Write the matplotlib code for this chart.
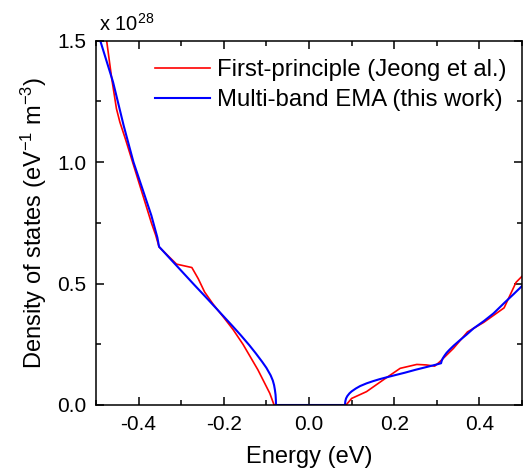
import matplotlib
matplotlib.use("Agg")
import matplotlib.pyplot as plt
from matplotlib.ticker import MultipleLocator, FormatStrFormatter

plt.rcParams['font.family'] = ['Liberation Sans', 'DejaVu Sans']
plt.rcParams['mathtext.fontset'] = 'custom'
plt.rcParams['mathtext.rm'] = 'Liberation Sans'
plt.rcParams['mathtext.it'] = 'Liberation Sans:italic'
plt.rcParams['mathtext.bf'] = 'Liberation Sans:bold'

# First-principle DOS (Jeong et al.), units of 1e28 eV^-1 m^-3
fp_energy = [-0.482, -0.475, -0.463, -0.452, -0.444, -0.430, -0.415, -0.400, -0.385,
             -0.370, -0.360, -0.352, -0.311, -0.275, -0.260, -0.245, -0.225, -0.200,
             -0.178, -0.155, -0.135, -0.120, -0.107, -0.092, -0.082,
             0.087, 0.100, 0.135, 0.174, 0.214, 0.253, 0.275, 0.295, 0.307,
             0.339, 0.372, 0.410, 0.450, 0.458, 0.486, 0.500, 0.505]
fp_dos = [1.60, 1.50, 1.343, 1.22, 1.165, 1.09, 1.005, 0.92, 0.835,
          0.750, 0.700, 0.651, 0.580, 0.566, 0.520, 0.465, 0.415, 0.360,
          0.310, 0.250, 0.190, 0.145, 0.100, 0.048, 0.0,
          0.0, 0.027, 0.055, 0.103, 0.151, 0.167, 0.165, 0.160, 0.178,
          0.233, 0.301, 0.340, 0.390, 0.400, 0.505, 0.530, 0.535]

# Multi-band EMA (this work)
ema_energy = [-0.497, -0.490, -0.460, -0.435, -0.412, -0.390, -0.370, -0.356, -0.352,
              -0.330, -0.300, -0.270, -0.240, -0.210, -0.180, -0.160, -0.140, -0.125,
              -0.110, -0.100, -0.090, -0.085, -0.082, -0.080, -0.0785, -0.0778, -0.0775,
              0.0845, 0.0852, 0.087, 0.090, 0.095, 0.100, 0.110, 0.120, 0.135, 0.150,
              0.165, 0.180, 0.200, 0.225, 0.250, 0.275, 0.300, 0.310, 0.3115, 0.314,
              0.318, 0.323, 0.330, 0.340, 0.355, 0.370, 0.386, 0.410, 0.433, 0.460,
              0.480, 0.500]
ema_dos = [1.54, 1.50, 1.33, 1.15, 1.00, 0.885, 0.78, 0.69, 0.652,
           0.610, 0.553, 0.496, 0.440, 0.383, 0.326, 0.287, 0.246, 0.213,
           0.178, 0.153, 0.122, 0.101, 0.082, 0.062, 0.042, 0.022, 0.0,
           0.0, 0.015, 0.027, 0.037, 0.048, 0.056, 0.068, 0.078, 0.089, 0.098,
           0.106, 0.113, 0.122, 0.133, 0.145, 0.156, 0.167, 0.172, 0.182, 0.192,
           0.203, 0.215, 0.228, 0.245, 0.268, 0.290, 0.315, 0.345, 0.377, 0.423,
           0.456, 0.490]

fig = plt.figure(figsize=(5.27, 4.72), dpi=100)
ax = fig.add_axes([96/527, 1-405/472, 426/527, (405-40.7)/472])

ax.plot(fp_energy, fp_dos, color='#ff0000', lw=1.2, label='First-principle (Jeong et al.)')
ax.plot(ema_energy, ema_dos, color='#0000ff', lw=1.5, label='Multi-band EMA (this work)')

ax.set_xlim(-0.5, 0.5)
ax.set_ylim(0, 1.5)
ax.xaxis.set_major_locator(MultipleLocator(0.2))
ax.xaxis.set_minor_locator(MultipleLocator(0.1))
ax.yaxis.set_major_locator(MultipleLocator(0.5))
ax.yaxis.set_minor_locator(MultipleLocator(0.25))
ax.xaxis.set_major_formatter(FormatStrFormatter('%.1f'))
ax.yaxis.set_major_formatter(FormatStrFormatter('%.1f'))
ax.tick_params(which='both', direction='in', top=True, right=True, width=1.1)
ax.tick_params(which='major', length=6, labelsize=15, pad=7)
ax.tick_params(which='minor', length=3.5)
for s in ax.spines.values():
    s.set_linewidth(1.1)

ax.set_xlabel('Energy (eV)', fontsize=17, labelpad=9)
ax.set_ylabel(r'Density of states (eV$^{-1}$ m$^{-3}$)', fontsize=17, labelpad=6)

ax.text(0.007, 1.015, r'x 10$^{28}$', transform=ax.transAxes, ha='left', va='bottom', fontsize=14.5)

leg = ax.legend(loc='upper right', bbox_to_anchor=(0.964, 0.95), frameon=False,
                fontsize=17.2, handlelength=2.3, handletextpad=0.3, labelspacing=0.35,
                borderaxespad=0, borderpad=0)

fig.savefig('out.png', dpi=100)
